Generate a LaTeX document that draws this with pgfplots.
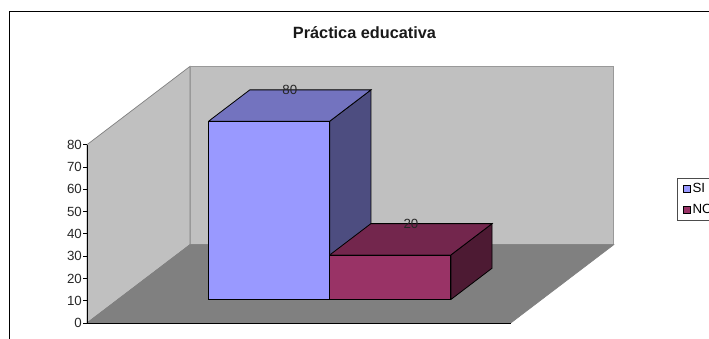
\documentclass[border=0pt]{standalone}
\usepackage{fontspec}
\setmainfont{Liberation Sans}
\usepackage{pgfplots}
\pgfplotsset{compat=1.18}
\definecolor{wall}{HTML}{C0C0C0}
\definecolor{floorc}{HTML}{808080}
\definecolor{siF}{HTML}{9999FF}
\definecolor{siT}{HTML}{7373BF}
\definecolor{siS}{HTML}{4D4D80}
\definecolor{noF}{HTML}{993366}
\definecolor{noT}{HTML}{73264D}
\definecolor{noS}{HTML}{4D1A33}
% #1 x0, #2 x1, #3 value, #4 front, #5 top, #6 side
\newcommand{\barbox}[6]{%
  \addplot3[forget plot,fill=#6,draw=black,line width=0.8pt] coordinates {(#2,0.3,0)(#2,0.7,0)(#2,0.7,#3)(#2,0.3,#3)(#2,0.3,0)};
  \addplot3[forget plot,fill=#5,draw=black,line width=0.8pt] coordinates {(#1,0.3,#3)(#2,0.3,#3)(#2,0.7,#3)(#1,0.7,#3)(#1,0.3,#3)};
  \addplot3[forget plot,fill=#4,draw=black,line width=0.8pt] coordinates {(#1,0.3,0)(#2,0.3,0)(#2,0.3,#3)(#1,0.3,#3)(#1,0.3,0)};
}
\begin{document}
\begin{tikzpicture}[x=1pt,y=1pt]
\path[use as bounding box,clip] (0,0) rectangle (709,338);
\draw[line width=0.9pt,black] (9.3,-5) -- (9.3,327) -- (720,327);
\begin{axis}[
  at={(87pt,15pt)},anchor=origin,
  x={(423.7pt,0pt)},y={(103pt,78.3pt)},z={(0pt,2.229pt)},
  xmin=0,xmax=1,ymin=0,ymax=1,zmin=0,zmax=80,
  clip=false,
  axis lines=left,
  axis line style={-,black,line width=0.8pt},
  y axis line style={draw=none},
  xtick=\empty,ytick=\empty,
  ztick={0,10,20,30,40,50,60,70,80},
  major tick length=0pt,
  /pgf/number format/assume math mode=true,
  z tick label style={font=\fontsize{13.3}{15}\selectfont,text=black!85,inner sep=0pt,anchor=east,xshift=-5pt,yshift=0pt},
  legend style={at={(axis cs:1.3925,0,65.0)},anchor=north west,draw=black!70,line width=0.6pt,
    font=\fontsize{13.3}{15}\selectfont,inner xsep=5.5pt,inner ysep=3pt,row sep=6.5pt,
    legend cell align=left,/tikz/every even column/.append style={column sep=3.5pt}},
  legend image code/.code={\draw[#1,line width=0.7pt,draw=black] (0pt,-3.5pt) rectangle (7pt,3.5pt);},
]
% left wall, back wall, floor
\addplot3[forget plot,fill=wall,draw=floorc,line width=0.7pt] coordinates {(0,0,0)(0,1,0)(0,1,80)(0,0,80)(0,0,0)};
\addplot3[forget plot,fill=wall,draw=black!40,line width=0.7pt] coordinates {(0,1,0)(1,1,0)(1,1,80)(0,1,80)(0,1,0)};
\addplot3[forget plot,fill=floorc,draw=floorc,line width=0.7pt] coordinates {(0,0,0)(1,0,0)(1,1,0)(0,1,0)(0,0,0)};
\addplot3[forget plot,draw=black,line width=0.8pt] coordinates {(0,0,0)(1,0,0)};
\addplot3[forget plot,draw=black,line width=0.8pt] coordinates {(0,0,0)(0,0,80)};
% tick marks on the value axis
\pgfplotsinvokeforeach{0,10,...,80}{
  \addplot3[forget plot,draw=black,line width=0.7pt] coordinates {(-0.0083,0,#1)(0,0,#1)};
}
\barbox{0.2141}{0.5}{80}{siF}{siT}{siS}
\barbox{0.5}{0.7859}{20}{noF}{noT}{noS}
% data labels
\addplot3[forget plot,draw=none,mark=none,point meta=z,nodes near coords,
  every node near coord/.style={anchor=center,yshift=15.6pt,inner sep=0pt,text=black!85,font=\fontsize{13.3}{15}\selectfont,/pgf/number format/assume math mode=true}]
  coordinates {(0.3571,0.5,80)(0.6429,0.5,20)};
\addlegendimage{fill=siF}
\addlegendentry{SI}
\addlegendimage{fill=noF}
\addlegendentry{NO}
\end{axis}
\node[font=\bfseries\fontsize{16.3}{18}\selectfont,text=black!90,inner sep=0pt] at (364.5,305.5) {Práctica educativa};
\end{tikzpicture}
\end{document}
